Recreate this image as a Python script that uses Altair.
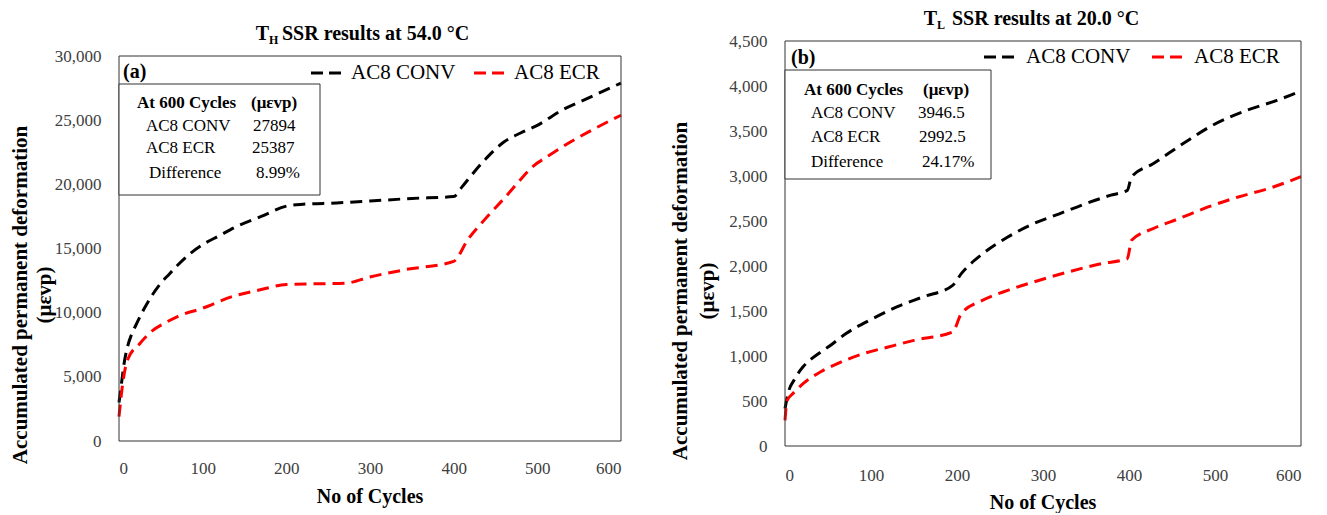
import altair as alt
import pandas as pd

FONT = "Liberation Serif"
SERIES = ["AC8 CONV", "AC8 ECR"]
COLORS = ["#000000", "#ff0000"]

# ---- panel (a): T_H at 54.0 °C ----
a_conv_x = [0, 3, 6, 10, 15, 20, 30, 40, 50, 60, 70, 85, 100, 120, 140, 170, 200, 220, 260, 300, 350, 400, 410, 425, 440, 460, 480, 500, 530, 560, 600]
a_conv_y = [3000, 4500, 6000, 7300, 8300, 9000, 10300, 11400, 12300, 13000, 13700, 14600, 15300, 16000, 16700, 17500, 18300, 18450, 18550, 18700, 18900, 19050, 19800, 21000, 22100, 23300, 24000, 24600, 25800, 26700, 27894]
a_ecr_x = [0, 4.5, 10, 25, 40, 55, 70, 100, 135, 170, 200, 236, 271, 301, 342, 400, 417, 437, 463, 480, 493, 513, 538, 563, 600]
a_ecr_y = [1900, 4500, 6300, 7600, 8600, 9200, 9700, 10350, 11250, 11800, 12200, 12250, 12300, 12800, 13350, 14000, 15700, 17250, 19100, 20370, 21300, 22200, 23240, 24150, 25387]

# ---- panel (b): T_L at 20.0 °C ----
b_conv_x = [0, 4, 11, 21, 31, 41, 51, 71, 101, 130, 160, 195, 205, 230, 259, 289, 319, 349, 378, 398, 403, 428, 463, 497, 537, 572, 600]
b_conv_y = [415, 600, 740, 880, 970, 1040, 1105, 1250, 1410, 1545, 1655, 1785, 1915, 2137, 2322, 2470, 2580, 2690, 2785, 2840, 2990, 3137, 3360, 3563, 3730, 3840, 3946.5]
b_ecr_x = [0, 2.5, 9, 21, 41, 61, 91, 120, 150, 195, 205, 230, 259, 289, 329, 368, 398, 403, 428, 458, 492, 527, 562, 600]
b_ecr_y = [285, 507, 580, 693, 822, 915, 1026, 1100, 1174, 1267, 1470, 1620, 1730, 1822, 1933, 2026, 2081, 2285, 2415, 2526, 2656, 2767, 2860, 2992.5]

a_table = [["At 600 Cycles", "(μεvp)"], ["AC8 CONV", "27894"], ["AC8 ECR", "25387"], ["Difference", "8.99%"]]
b_table = [["At 600 Cycles", "(μεvp)"], ["AC8 CONV", "3946.5"], ["AC8 ECR", "2992.5"], ["Difference", "24.17%"]]

a_title = ["T", "H", "SSR results at 54.0 °C"]
b_title = ["T", "L", "SSR results at 20.0 °C"]
y_title = ["Accumulated permanent deformation", "(μεvp)"]
x_title = "No of Cycles"
x_ticks = [0, 100, 200, 300, 400, 500, 600]
a_yticks = [0, 5000, 10000, 15000, 20000, 25000, 30000]
b_yticks = [0, 500, 1000, 1500, 2000, 2500, 3000, 3500, 4000, 4500]

one = pd.DataFrame({"k": [0]})


def txt(s, x, y, size=17, weight="normal", align="left", angle=0, color="#000"):
    kw = dict(font=FONT, fontSize=size, fontWeight=weight, align=align, baseline="middle", color=color)
    if angle:
        kw["angle"] = angle
    return alt.Chart(one).mark_text(**kw).encode(
        x=alt.value(x), y=alt.value(y), text=alt.value(s))


def panel(cx, cy, ex, ey, table, title, label, ymax, yticks, W, H, top, geo):
    df = pd.concat([
        pd.DataFrame({"c": cx, "v": cy, "s": SERIES[0]}),
        pd.DataFrame({"c": ex, "v": ey, "s": SERIES[1]}),
    ])
    lines = alt.Chart(df).mark_line(strokeWidth=3, strokeDash=[12, 7], interpolate="monotone").encode(
        x=alt.X("c:Q", scale=alt.Scale(domain=[0, 600], nice=False),
                axis=alt.Axis(values=x_ticks, title=None, labelPadding=geo["xpad"])),
        y=alt.Y("v:Q", scale=alt.Scale(domain=[0, ymax], nice=False, range=[H, top]),
                axis=alt.Axis(values=yticks, format=",.0f", title=None, labelPadding=18)),
        color=alt.Color("s:N", scale=alt.Scale(domain=SERIES, range=COLORS), legend=None),
        detail="s:N",
    )
    frame = alt.Chart(one).mark_rect(fill=None, stroke="#333", strokeWidth=1).encode(
        x=alt.value(0), x2=alt.value(W), y=alt.value(top), y2=alt.value(H))
    bx0, bx1, by0, by1 = geo["box"]
    box = alt.Chart(one).mark_rect(fill="white", stroke="#333", strokeWidth=1).encode(
        x=alt.value(bx0), x2=alt.value(bx1), y=alt.value(by0 + top), y2=alt.value(by1 + top))
    layers = [lines, frame, box]
    # table
    c1, c2 = geo["cols"]
    for i, (r, ys) in enumerate(zip(table, geo["rows"])):
        w = "bold" if i == 0 else "normal"
        layers.append(txt(r[0], c1 + geo["ind"][i], ys + top, 17, w))
        layers.append(txt(r[1], c2 + geo["vind"][i], ys + top, 17, w))
    # panel label
    layers.append(txt(label, geo["lab"][0], geo["lab"][1] + top, 20, "bold"))
    # legend
    ly = geo["leg_y"] + top
    for (s0, s1, tx), name, col in zip(geo["leg"], SERIES, COLORS):
        layers.append(alt.Chart(one).mark_rule(strokeWidth=3, strokeDash=[12, 6], color=col).encode(
            x=alt.value(s0), x2=alt.value(s1), y=alt.value(ly)))
        layers.append(txt(name, tx, ly, 21))
    # chart title with subscript
    tx, ty = geo["title"]
    layers.append(txt(title[0], tx, ty, 20, "bold", align="right"))
    layers.append(txt(title[1], tx, ty + 6, 12, "bold"))
    layers.append(txt(title[2], tx + geo["sub_w"], ty, 20, "bold"))
    # y axis title (two lines)
    layers.append(txt(y_title[0], geo["yt"][0], geo["yt"][2], 21, "bold", align="center", angle=270))
    layers.append(txt(y_title[1], geo["yt"][1], geo["yt"][2], 21, "bold", align="center", angle=270))
    # x axis title
    layers.append(txt(x_title, W / 2, geo["xt"], 20, "bold", align="center"))
    return alt.layer(*layers).properties(width=W, height=H)


# both panels share the same origin row; panel (a) plot starts 15px lower
left = panel(a_conv_x, a_conv_y, a_ecr_x, a_ecr_y, a_table, a_title, "(a)", 30000, a_yticks, 502, 400, 15,
             dict(xpad=19, box=(0, 201, 28, 139), cols=(18, 132), rows=(47, 70, 92, 117),
                  ind=(0, 9, 9, 12), vind=(0, 2, 1, 5), lab=(4, 16), leg_y=17,
                  leg=[(192, 222, 232), (355, 385, 395)], title=(150, -7), sub_w=13,
                  yt=(-98, -74, 254), xt=456))
right = panel(b_conv_x, b_conv_y, b_ecr_x, b_ecr_y, b_table, b_title, "(b)", 4500, b_yticks, 516, 405, 0,
              dict(xpad=21, box=(0, 206, 29, 138), cols=(19, 138), rows=(49, 72, 96, 121),
                   ind=(0, 7, 7, 7), vind=(0, -5, -4, -1), lab=(6, 17), leg_y=16,
                   leg=[(199, 229, 241), (367, 397, 409)], title=(152, -22), sub_w=15,
                   yt=(-104, -77, 250), xt=462))

chart = alt.hconcat(left, right, spacing=43).properties(
    padding={"left": 2, "top": 1, "right": 0, "bottom": 0}
).configure_view(stroke=None).configure_axis(
    labelFont=FONT, labelFontSize=17, labelColor="#404040", ticks=False, tickSize=0,
    domain=False, grid=False
)

chart.save("out.html", embed_options={"renderer": "svg", "actions": False})
